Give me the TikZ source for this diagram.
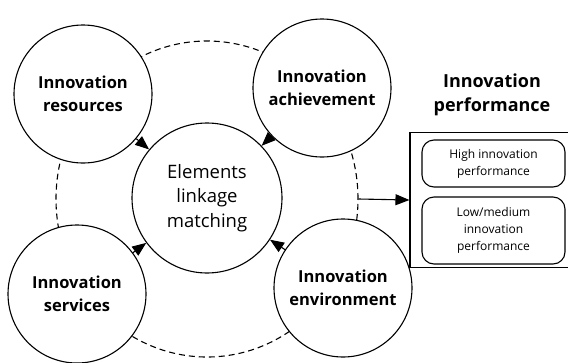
\documentclass[tikz,border=0pt]{standalone}
\usepackage{fontspec}
\setmainfont{Open Sans}
\usetikzlibrary{shapes.geometric,arrows.meta}

\begin{document}
\begin{tikzpicture}[x=1pt, y=-1pt, line width=1.1pt, >={Triangle[length=14pt, width=11pt]}]
                \useasboundingbox (0, 0) rectangle (568, 362);

                \node[ellipse, draw, dashed, dash pattern=on 6pt off 4pt, minimum width=302pt, minimum height=316pt] (ring) at (207, 199) {};

                \begin{scope}[every node/.style={circle, draw, fill=white, align=center, font=\fontsize{16.5}{23}\selectfont\bfseries, minimum size=138pt, inner sep=0pt}]
                    \node (res) at (83, 94) {Innovation\\resources};
                    \node (ach) at (322, 88) {Innovation\\achievement};
                    \node (ser) at (77, 294) {Innovation\\services};
                    \node (env) at (343, 288) {Innovation\\environment};
                \end{scope}

                \node[circle, draw, fill=white, align=center, font=\fontsize{18.5}{24.5}\selectfont, minimum size=150pt, inner sep=0pt] (elem) at (207, 198) {Elements\\linkage\\matching};

                \draw[black, ->] (res) -- (elem);
                \draw[black, ->] (ach) -- (elem);
                \draw[black, ->] (ser) -- (elem);
                \draw[black, ->] (env) -- (elem);

                \node[align=center, font=\fontsize{18}{24}\selectfont\bfseries] (title) at (492, 95) {Innovation\\performance};

                \node[draw, minimum width=159pt, minimum height=135pt] (perf) at (489.5, 200) {};
                \begin{scope}[every node/.style={draw, rounded corners=12pt, align=center, font=\fontsize{12}{17}\selectfont, minimum width=143pt, inner sep=0pt}]
                    \node[minimum height=47pt] (high) at (493.5, 163.5) {High innovation\\performance};
                    \node[minimum height=67pt] (low) at (493.5, 230.5) {Low/medium\\innovation\\performance};
                \end{scope}

                \draw[black, ->] (ring.east) -- (perf.west);
            \end{tikzpicture}
\end{document}
